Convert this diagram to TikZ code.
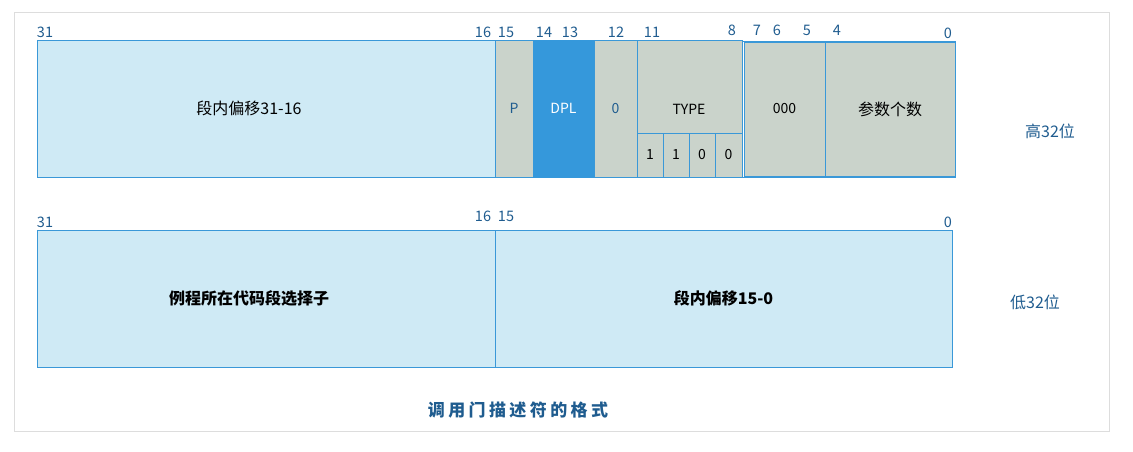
\documentclass[tikz,border=0pt]{standalone}
\usepackage{fontspec}
\setmainfont{Noto Sans CJK SC}
\newfontfamily\capfont[LetterSpace=20]{Noto Sans CJK SC}
\begin{document}
\begin{tikzpicture}[x=1pt,y=-1pt,
  cell/.style={draw=cellline,line width=0.8pt,anchor=north west,inner sep=0pt,outer sep=0pt,font=\fontsize{14}{14}\selectfont},
  bluecell/.style={cell,fill=lightblue},
  graycell/.style={cell,fill=grayfill},
  bitno/.style={text=numblue,inner sep=0pt,font=\fontsize{14.5}{14.5}\selectfont},
  side/.style={text=numblue,inner sep=0pt,font=\fontsize{16}{16}\selectfont}]
\definecolor{cellline}{HTML}{3A98D8}
\definecolor{lightblue}{HTML}{CFEAF5}
\definecolor{grayfill}{HTML}{CAD3CB}
\definecolor{dplblue}{HTML}{3598DB}
\definecolor{numblue}{HTML}{1F5C8F}
\definecolor{frame}{HTML}{DDDDDD}
\useasboundingbox (0,0) rectangle (1133,451);
\draw[frame,line width=0.8pt] (14,12) rectangle (1109,431);
% high 32 bits
\node[bluecell,minimum width=458pt,minimum height=137pt,font=\fontsize{16}{16}\selectfont] (offhi) at (37,40) {\hspace*{-34pt}段内偏移31-16};
\node[graycell,minimum width=38pt,minimum height=137pt,text=numblue] (p) at (495,40) {\raisebox{-3pt}{P}};
\node[cell,fill=dplblue,draw=dplblue,minimum width=61pt,minimum height=137pt,text=white] (dpl) at (533,40) {DPL};
\node[graycell,minimum width=43pt,minimum height=137pt,text=numblue] (z) at (594,40) {0};
\node[graycell,minimum width=105pt,minimum height=93pt] (type) at (637,40) {};
\node[inner sep=0pt,font=\fontsize{14}{14}\selectfont] (typelbl) at (689,109) {TYPE};
\node[graycell,minimum width=26pt,minimum height=44pt] (b11) at (637,133) {1};
\node[graycell,minimum width=26pt,minimum height=44pt] (b10) at (663,133) {1};
\node[graycell,minimum width=26pt,minimum height=44pt] (b9) at (689,133) {0};
\node[graycell,minimum width=27pt,minimum height=44pt] (b8) at (715,133) {0};
\node[cell,minimum width=213pt,minimum height=136pt] (grp) at (742,41) {};
\node[graycell,minimum width=81pt,minimum height=134pt] (zeros) at (744,42) {000};
\node[graycell,minimum width=130pt,minimum height=134pt,font=\fontsize{16}{16}\selectfont] (args) at (825,42) {参数个数};
\node[bitno] (n31a) at (45,32) {31};
\node[bitno] (n16a) at (483,32) {16};
\node[bitno] (n15a) at (506,32) {15};
\node[bitno] (n14) at (544,32) {14};
\node[bitno] (n13) at (570,32) {13};
\node[bitno] (n12) at (616,32) {12};
\node[bitno] (n11) at (652,32) {11};
\node[bitno] (n8) at (732,30) {8};
\node[bitno] (n7) at (757,30) {7};
\node[bitno] (n6) at (777,30) {6};
\node[bitno] (n5) at (807,30) {5};
\node[bitno] (n4) at (837,30) {4};
\node[bitno] (n0a) at (948,33) {0};
\node[side] (hi) at (1050,131) {高32位};
% low 32 bits
\node[bluecell,minimum width=458pt,minimum height=137pt,font=\fontsize{16}{16}\selectfont\bfseries] (sel) at (37,230) {\hspace*{-34pt}例程所在代码段选择子};
\node[bluecell,minimum width=457pt,minimum height=137pt,font=\fontsize{16}{16}\selectfont\bfseries] (offlo) at (495,230) {段内偏移15-0};
\node[bitno] (n31b) at (45,222) {31};
\node[bitno] (n16b) at (483,216) {16};
\node[bitno] (n15b) at (506,216) {15};
\node[bitno] (n0b) at (948,222) {0};
\node[side] (lo) at (1035,302) {低32位};
\node[inner sep=0pt,text=numblue,font=\fontsize{17}{17}\capfont\bfseries] (cap) at (518,410) {调用门描述符的格式};
\end{tikzpicture}
\end{document}
